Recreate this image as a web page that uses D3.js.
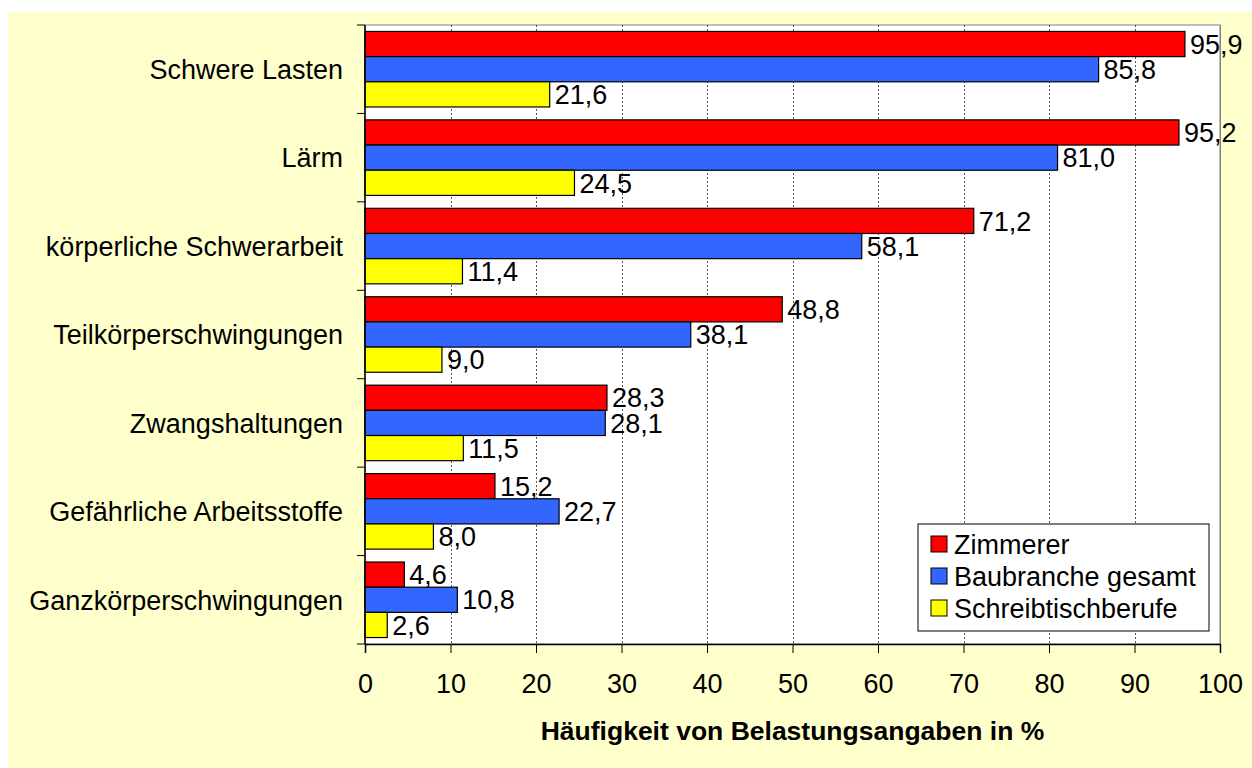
<!DOCTYPE html>
<html>
<head>
<meta charset="utf-8">
<script src="https://cdn.jsdelivr.net/npm/d3@7"></script>
<style>
  body { margin: 0; background: #fff; }
  svg { display: block; font-family: "Liberation Sans", Arial, sans-serif; }
</style>
</head>
<body>
<svg id="chart" width="1252" height="768"></svg>
<script>
// data
var categories = ["Schwere Lasten", "Lärm", "körperliche Schwerarbeit", "Teilkörperschwingungen",
                  "Zwangshaltungen", "Gefährliche Arbeitsstoffe", "Ganzkörperschwingungen"];
var seriesNames = ["Zimmerer", "Baubranche gesamt", "Schreibtischberufe"];
var zimmerer = [95.9, 95.2, 71.2, 48.8, 28.3, 15.2, 4.6];
var baubranche = [85.8, 81.0, 58.1, 38.1, 28.1, 22.7, 10.8];
var schreibtisch = [21.6, 24.5, 11.4, 9.0, 11.5, 8.0, 2.6];
var xTicks = [0, 10, 20, 30, 40, 50, 60, 70, 80, 90, 100];
var colors = ["#ff0000", "#3366ff", "#ffff00"];
var xTitle = "Häufigkeit von Belastungsangaben in %";

var series = [zimmerer, baubranche, schreibtisch];

var svg = d3.select("#chart");
var plotLeft = 365, plotRight = 1220, plotTop = 25, plotBottom = 644;
var fontSize = 27;

svg.append("rect")
    .attr("x", 8).attr("y", 12)
    .attr("width", 1252 - 8).attr("height", 768 - 12)
    .attr("fill", "#ffffcc");

var x = d3.scaleLinear().domain([0, 100]).range([plotLeft, plotRight]);
var y = d3.scaleBand().domain(categories).range([plotTop, plotBottom])
    .paddingInner(0.146).paddingOuter(0.073);
var ySub = d3.scaleBand().domain(d3.range(3)).range([0, y.bandwidth()]);

// plot area
svg.append("rect")
    .attr("x", plotLeft).attr("y", plotTop)
    .attr("width", plotRight - plotLeft).attr("height", plotBottom - plotTop)
    .attr("fill", "#fff")
    .attr("stroke", "#808080");

// grid
svg.append("g")
    .selectAll("line")
    .data(xTicks.slice(1))
    .enter().append("line")
    .attr("x1", function(d) { return Math.round(x(d)) + 0.5; })
    .attr("x2", function(d) { return Math.round(x(d)) + 0.5; })
    .attr("y1", plotTop).attr("y2", plotBottom)
    .attr("stroke", function(d) { return d == 100 ? "#808080" : "#555"; })
    .attr("stroke-dasharray", function(d) { return d == 100 ? null : "2,2"; });

// bars
var groups = svg.append("g").selectAll("g")
    .data(categories)
    .enter().append("g")
    .attr("transform", function(d) { return "translate(0," + y(d) + ")"; });

groups.each(function(cat, ci) {
    var g = d3.select(this);
    series.forEach(function(vals, si) {
        g.append("rect")
            .attr("x", x(0))
            .attr("y", ySub(si))
            .attr("width", x(vals[ci]) - x(0))
            .attr("height", ySub.bandwidth())
            .attr("fill", colors[si])
            .attr("stroke", "#000")
            .attr("stroke-width", 1.2);
        g.append("text")
            .attr("x", x(vals[ci]) + 5)
            .attr("y", ySub(si) + ySub.bandwidth() / 2)
            .attr("dy", "0.36em")
            .style("font-size", fontSize + "px")
            .text(vals[ci].toFixed(1).replace(".", ","));
    });
});

// x axis
var xAxis = svg.append("g")
    .attr("transform", "translate(0," + plotBottom + ")")
    .call(d3.axisBottom(x).tickValues(xTicks).tickSize(9).tickPadding(21));
xAxis.select(".domain").attr("stroke", "#000").attr("stroke-width", 1.5);
xAxis.selectAll("text").style("font-size", fontSize + "px").attr("fill", "#000")
    .style("font-family", "'Liberation Sans', Arial, sans-serif");

// y axis: ticks between categories
var boundaries = categories.map(function(c) { return y(c) - y.step() * y.paddingInner() / 2; });
boundaries.push(plotBottom);
var yAxisG = svg.append("g");
yAxisG.append("line")
    .attr("x1", plotLeft).attr("x2", plotLeft).attr("y1", plotTop).attr("y2", plotBottom)
    .attr("stroke", "#000").attr("stroke-width", 1.5);
yAxisG.selectAll("line.tick")
    .data(boundaries)
    .enter().append("line")
    .attr("class", "tick")
    .attr("x1", plotLeft - 8).attr("x2", plotLeft)
    .attr("y1", function(d) { return d; }).attr("y2", function(d) { return d; })
    .attr("stroke", "#000");
yAxisG.selectAll("text")
    .data(categories)
    .enter().append("text")
    .attr("x", plotLeft - 22)
    .attr("y", function(d) { return y(d) + y.bandwidth() / 2; })
    .attr("dy", "0.36em")
    .attr("text-anchor", "end")
    .style("font-size", fontSize + "px")
    .text(function(d) { return d; });

// axis title
svg.append("text")
    .attr("x", (plotLeft + plotRight) / 2)
    .attr("y", 740)
    .attr("text-anchor", "middle")
    .style("font-size", (fontSize - 0.5) + "px")
    .style("font-weight", "bold")
    .text(xTitle);

// legend
var legend = svg.append("g").attr("transform", "translate(918,524)");
legend.append("rect")
    .attr("width", 291).attr("height", 107)
    .attr("fill", "#fff").attr("stroke", "#000");
var items = legend.selectAll("g")
    .data(seriesNames)
    .enter().append("g")
    .attr("transform", function(d, i) { return "translate(0," + (20 + i * 32) + ")"; });
items.append("rect")
    .attr("x", 13).attr("y", -8)
    .attr("width", 16).attr("height", 16)
    .attr("fill", function(d, i) { return colors[i]; })
    .attr("stroke", "#000");
items.append("text")
    .attr("x", 36)
    .attr("dy", "0.36em")
    .style("font-size", fontSize + "px")
    .text(function(d) { return d; });
</script>
</body>
</html>
